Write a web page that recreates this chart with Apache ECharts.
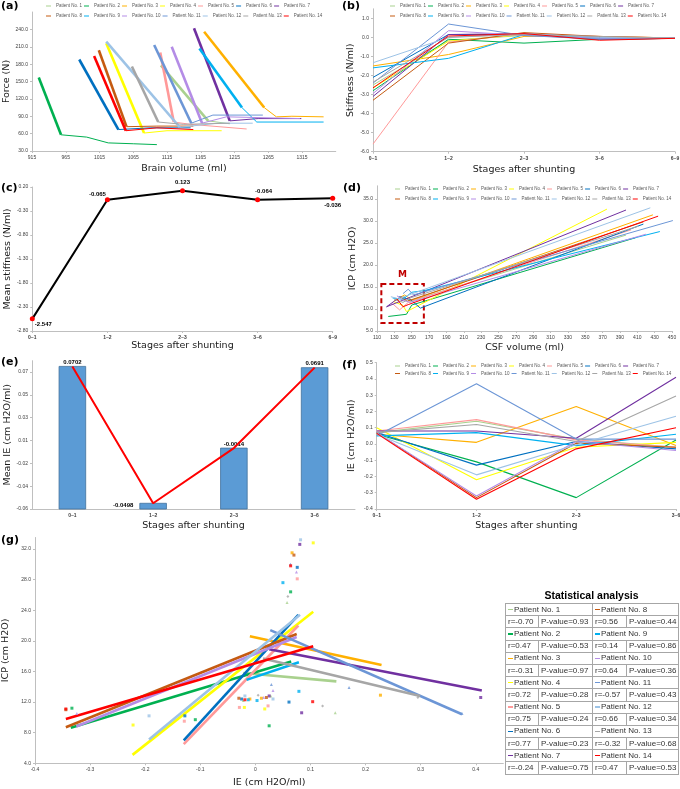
<!DOCTYPE html>
<html>
<head>
<meta charset="utf-8">
<title>Stiffness / ICP after shunting</title>
<script src="https://cdn.jsdelivr.net/npm/echarts/dist/echarts.min.js"></script>
<style>
html, body { margin: 0; padding: 0; background: #fff; }
#wrap { position: relative; width: 680px; height: 789px; }
#chart { position: absolute; left: 0; top: 0; width: 680px; height: 789px; }
#stat { position: absolute; left: 505px; top: 588px; width: 173px; font-family: 'Liberation Sans', Arial, sans-serif; color: #333; }
#stat .ttl { text-align: center; font-weight: bold; font-size: 10.5px; height: 15px; line-height: 15px; color: #000; }
#stat table { border-collapse: collapse; width: 173px; table-layout: fixed; }
#stat tr { height: 12.2px; }
#stat td { border: 1px solid #A6A6A6; font-size: 8px; line-height: 10px; padding: 0 0 0 2px; white-space: nowrap; overflow: hidden; }
#stat .dash { display: inline-block; width: 5px; height: 1.3px; vertical-align: middle; margin-right: 1px; }
</style>
</head>
<body>
<div id="wrap">
  <div id="chart"></div>
  <div id="stat">
    <div class="ttl">Statistical analysis</div>
    <table id="statTable">
      <colgroup><col style="width:33px"><col style="width:54px"><col style="width:34px"><col style="width:52px"></colgroup>
      <tbody></tbody>
    </table>
  </div>
</div>
<script>
// patients + colours (same order in every panel)
const patients = ['Patient No. 1', 'Patient No. 2', 'Patient No. 3', 'Patient No. 4', 'Patient No. 5', 'Patient No. 6', 'Patient No. 7',
  'Patient No. 8', 'Patient No. 9', 'Patient No. 10', 'Patient No. 11', 'Patient No. 12', 'Patient No. 13', 'Patient No. 14']
const colors = ['#A9D18E', '#00B050', '#FFB000', '#FFFF00', '#FF9999', '#0070C0', '#7030A0',
  '#C55A11', '#00B0F0', '#B48CE6', '#6C96D6', '#9DC3E6', '#A6A6A6', '#FF0000']

// (a) force vs brain volume, [volume, force]
const forceData = [
  [[1106, 178], [1176, 82], [1208, 77]],
  [[925, 157], [958, 58], [996, 54], [1028, 44], [1065, 42.5], [1100, 41]],
  [[1170, 236], [1259, 105], [1277, 89], [1300, 90], [1347, 89]],
  [[1025, 216], [1081, 61], [1115, 65], [1196, 65]],
  [[1105, 200], [1125, 80], [1150, 76], [1233, 68]],
  [[985, 188], [1043, 67], [1090, 70], [1150, 70]],
  [[1155, 242], [1208, 82], [1250, 86], [1314, 86]],
  [[1014, 204], [1055, 72], [1100, 73], [1154, 73]],
  [[1163, 207], [1226, 105], [1248, 80], [1347, 80]],
  [[1122, 210], [1167, 78], [1203, 89], [1312, 86]],
  [[1096, 213], [1151, 78], [1183, 92], [1257, 92]],
  [[1025, 219], [1134, 71], [1190, 78], [1242, 78]],
  [[1063, 176], [1102, 80], [1139, 76], [1208, 78]],
  [[1007, 194], [1054, 65], [1100, 70], [1154, 67]]
]

// (b) stiffness per stage
const stages5 = ['0~1', '1~2', '2~3', '3~6', '6~9']
const stiffData = [
  [-2.5, -0.15, 0.1, -0.05, -0.04],
  [-2.8, -0.1, -0.3, -0.1, -0.05],
  [-1.5, -0.9, 0.05, 0.05, -0.03],
  [-2.65, -0.2, 0.15, 0.0, -0.04],
  [-5.6, -0.25, 0.2, 0.05, -0.03],
  [-2.1, 0.15, 0.15, -0.1, -0.05],
  [-3.1, 0.15, 0.2, 0.0, -0.04],
  [-3.3, -0.3, 0.25, 0.05, -0.03],
  [-1.6, -1.1, 0.15, -0.05, -0.05],
  [-2.95, 0.35, 0.1, -0.05, -0.04],
  [-2.4, 0.7, 0.1, -0.1, -0.05],
  [-1.33, 0.0, 0.2, 0.0, -0.03],
  [-2.35, 0.0, 0.15, 0.05, -0.04],
  [-2.65, 0.07, 0.2, -0.15, -0.05]
]

// (c) mean stiffness
const meanStiff = [-2.547, -0.065, 0.123, -0.064, -0.036]

// (d) ICP vs CSF volume, [volume, icp]
const icpData = [
  [[132, 12.0], [140, 12.8], [148, 11.8], [397, 26.8]],
  [[123, 8.3], [144, 8.8], [150, 10.9], [408, 26.2]],
  [[135, 12.5], [142, 13.2], [150, 12.0], [428, 31.4]],
  [[129, 11.7], [140, 10.8], [144, 9.4], [375, 32.7]],
  [[128, 11.2], [136, 9.8], [146, 11.5], [403, 28.0]],
  [[135, 12.8], [148, 12.2], [160, 10.2], [417, 29.3]],
  [[138, 12.8], [130, 11.8], [121, 10.5], [397, 32.5]],
  [[130, 12.0], [138, 12.6], [145, 11.8], [417, 29.8]],
  [[128, 12.5], [140, 12.2], [150, 13.8], [165, 14.2], [436, 27.6]],
  [[133, 13.0], [140, 12.0], [148, 11.5], [420, 27.0]],
  [[140, 13.5], [146, 14.5], [152, 13.2], [451, 30.1]],
  [[126, 12.8], [135, 12.3], [144, 13.0], [425, 33.0]],
  [[130, 12.2], [140, 11.5], [148, 12.5], [411, 28.8]],
  [[133, 12.3], [140, 10.5], [146, 11.0], [434, 31.1]]
]
const mBox = [115, 164, 6.8, 15.7] // x0, x1, y0, y1 of the dashed "M" frame

// (e) mean IE
const stages4 = ['0~1', '1~2', '2~3', '3~6']
const meanIE = [0.0702, -0.0498, -0.0014, 0.0691]
const ieMin = -0.0548
const ieTickLabels = ['-0.06', '-0.04', '-0.02', '0.01', '0.03', '0.05', '0.07']

// (f) IE per stage
const ieData = [
  [0.07, 0.14, 0.03, -0.02],
  [0.06, -0.11, -0.33, 0.025],
  [0.06, 0.01, 0.23, -0.01],
  [0.10, -0.22, -0.02, 0.01],
  [0.08, 0.15, 0.025, -0.02],
  [0.07, -0.13, 0.015, -0.03],
  [0.08, 0.08, 0.035, 0.41],
  [0.07, -0.33, 0.005, -0.02],
  [0.05, 0.07, -0.01, 0.06],
  [0.07, -0.32, 0.015, -0.04],
  [0.05, 0.37, 0.03, 0.03],
  [0.06, -0.19, -0.005, 0.17],
  [0.07, 0.12, 0.015, 0.295],
  [0.065, -0.34, -0.03, 0.10]
]

// (g) ICP vs IE points [ie, icp] and fitted line ends
const gPoints = [
  [[0.0575, 25.0], [0.145, 10.6], [0.028, 12.8], [-0.022, 12.2]],
  [[0.064, 26.4], [-0.109, 9.7], [-0.333, 11.2], [0.025, 8.9]],
  [[0.0666, 31.5], [0.011, 12.5], [0.227, 12.9], [-0.010, 12.4]],
  [[0.105, 32.8], [-0.222, 9.0], [-0.020, 11.3], [0.017, 11.1]],
  [[0.076, 28.1], [-0.129, 9.5], [-0.029, 11.3], [0.023, 11.5]],
  [[0.076, 29.6], [-0.128, 10.2], [-0.025, 12.4], [0.061, 12.0]],
  [[0.0806, 32.6], [0.409, 12.6], [0.084, 10.6], [0.025, 12.8]],
  [[0.070, 31.2], [-0.344, 11.0], [-0.030, 12.5], [0.020, 12.6]],
  [[0.050, 27.6], [-0.013, 12.3], [0.079, 13.4], [0.003, 12.2]],
  [[0.0745, 29.0], [-0.324, 10.5], [0.032, 13.5], [0.015, 12.6]],
  [[0.0636, 30.0], [0.375, 10.5], [0.029, 14.3], [0.170, 13.9]],
  [[0.082, 33.2], [-0.193, 10.2], [-0.019, 12.8], [0.032, 12.4]],
  [[0.059, 25.8], [0.122, 11.5], [0.005, 12.9], [0.295, 12.6]],
  [[0.064, 29.8], [-0.344, 11.1], [0.104, 12.05], [-0.019, 12.3]]
]
const gFits = [
  [[-0.022, 15.8], [0.147, 14.7]],
  [[-0.335, 8.65], [0.065, 17.3]],
  [[-0.010, 20.6], [0.229, 16.85]],
  [[-0.223, 5.1], [0.105, 23.8]],
  [[-0.13, 6.5], [0.078, 22.0]],
  [[-0.13, 7.0], [0.078, 23.4]],
  [[0.025, 18.9], [0.411, 13.5]],
  [[-0.344, 8.7], [0.075, 20.9]],
  [[-0.016, 14.9], [0.079, 17.2]],
  [[-0.325, 8.8], [0.075, 20.5]],
  [[0.027, 21.4], [0.375, 10.4]],
  [[-0.193, 7.1], [0.081, 23.4]],
  [[0.014, 17.7], [0.299, 12.8]],
  [[-0.344, 9.8], [0.105, 19.3]]
]
const gSymbols = ['triangle', 'rect', 'rect', 'rect', 'rect', 'rect', 'rect', 'rect', 'rect', 'triangle', 'triangle', 'rect', 'diamond', 'rect']

// table
const rValues = [-0.70, 0.47, -0.31, 0.72, 0.75, 0.77, -0.24, 0.56, 0.14, 0.64, -0.57, 0.66, -0.32, 0.47]
const pValues = [0.93, 0.53, 0.97, 0.28, 0.24, 0.23, 0.75, 0.44, 0.86, 0.36, 0.43, 0.34, 0.68, 0.53]

const titleFont = 'DejaVu Sans'
const smallFont = 'Liberation Sans'

function axis (gridIndex, extra) {
  const base = {
    gridIndex: gridIndex,
    nameLocation: 'middle',
    nameTextStyle: { fontSize: 9.5, fontFamily: titleFont, color: '#1a1a1a' },
    axisLine: { show: true, onZero: false, lineStyle: { color: '#BFBFBF', width: 1 } },
    axisTick: { show: true, length: 2, lineStyle: { color: '#BFBFBF' } },
    axisLabel: { fontSize: 5, color: '#404040', fontFamily: smallFont, margin: 4 },
    splitLine: { show: false }
  }
  return Object.assign(base, extra, {
    axisLabel: Object.assign({}, base.axisLabel, extra.axisLabel || {})
  })
}

function legendPair (left, top1, top2) {
  return [patients.slice(0, 7), patients.slice(7)].map(function (names, k) {
    return {
      data: names,
      left: left,
      top: k ? top2 : top1,
      orient: 'horizontal',
      icon: 'rect',
      itemWidth: 5,
      itemHeight: 1,
      itemGap: 2,
      padding: 0,
      selectedMode: false,
      textStyle: { fontSize: 4.5, width: 30, color: '#595959', fontFamily: smallFont }
    }
  })
}

const fix = function (d) {
  return function (v) { return Math.abs(v) < 1e-9 ? (0).toFixed(d) : v.toFixed(d) }
}

const series = []

// (a)
forceData.forEach(function (pts, i) {
  series.push({
    name: patients[i], type: 'line', xAxisIndex: 0, yAxisIndex: 0, data: pts.slice(0, 2),
    showSymbol: false, symbol: 'none', lineStyle: { width: 2.6, color: colors[i] }, itemStyle: { color: colors[i] }
  })
  series.push({
    name: patients[i], type: 'line', xAxisIndex: 0, yAxisIndex: 0, data: pts.slice(1),
    showSymbol: false, symbol: 'none', lineStyle: { width: 1, color: colors[i] }, itemStyle: { color: colors[i] }
  })
})

// (b)
stiffData.forEach(function (vals, i) {
  series.push({
    name: patients[i], type: 'line', xAxisIndex: 1, yAxisIndex: 1, data: vals,
    showSymbol: false, symbol: 'none', lineStyle: { width: 1, color: colors[i] }, itemStyle: { color: colors[i] }
  })
})

// (c)
const cLabelPos = [
  { position: 'right', offset: [-3, 5] },
  { position: 'left', offset: [4, -5] },
  { position: 'top', offset: [0, 0] },
  { position: 'top', offset: [6, 0] },
  { position: 'bottom', offset: [0, -1] }
]
series.push({
  type: 'line', xAxisIndex: 2, yAxisIndex: 2,
  data: meanStiff.map(function (v, i) { return { value: v, label: cLabelPos[i] } }),
  symbol: 'circle', symbolSize: 5,
  lineStyle: { color: '#000', width: 2 },
  itemStyle: { color: '#FF0000' },
  label: { show: true, fontSize: 6, fontWeight: 'bold', fontFamily: smallFont, color: '#000', distance: 3 }
})

// (d)
icpData.forEach(function (pts, i) {
  const s = {
    name: patients[i], type: 'line', xAxisIndex: 3, yAxisIndex: 3, data: pts,
    showSymbol: false, symbol: 'none', lineStyle: { width: 1, color: colors[i] }, itemStyle: { color: colors[i] }
  }
  if (i === patients.length - 1) {
    s.markArea = {
      silent: true,
      itemStyle: { color: 'rgba(0,0,0,0)', borderColor: '#C00000', borderWidth: 2, borderType: [5, 3] },
      label: { show: true, position: 'top', formatter: 'M', color: '#C00000', fontWeight: 'bold', fontSize: 9, fontFamily: titleFont, distance: 4 },
      data: [[{ xAxis: mBox[0], yAxis: mBox[3] }, { xAxis: mBox[1], yAxis: mBox[2] }]]
    }
  }
  series.push(s)
})

// (e) bars start from the axis bottom, like the original
series.push({
  type: 'custom', xAxisIndex: 4, yAxisIndex: 4,
  data: meanIE.map(function (v, i) { return [i, v] }),
  renderItem: function (params, api) {
    const c = api.value(0)
    const v = api.value(1)
    const top = api.coord([c, v])
    const base = api.coord([c, ieMin])
    const w = api.size([1, 0])[0] * 0.33
    const side = params.dataIndex === 1
    return {
      type: 'group',
      children: [
        { type: 'rect', shape: { x: top[0] - w / 2, y: top[1], width: w, height: base[1] - top[1] },
          style: { fill: '#5B9BD5', stroke: '#41719C', lineWidth: 0.8 } },
        { type: 'text', x: side ? top[0] - 30 : top[0], y: side ? top[1] + 2 : top[1] - 1,
          style: { text: String(v), align: 'center', verticalAlign: side ? 'middle' : 'bottom',
            fontSize: 6, fontWeight: 'bold', fontFamily: smallFont, fill: '#000' } }
      ]
    }
  }
})
series.push({
  type: 'line', xAxisIndex: 4, yAxisIndex: 4, data: meanIE,
  showSymbol: false, symbol: 'none', lineStyle: { color: '#FF0000', width: 2 }, z: 5
})

// (f)
ieData.forEach(function (vals, i) {
  series.push({
    name: patients[i], type: 'line', xAxisIndex: 5, yAxisIndex: 5, data: vals,
    showSymbol: false, symbol: 'none', lineStyle: { width: 1.1, color: colors[i] }, itemStyle: { color: colors[i] }
  })
})

// (g)
gFits.forEach(function (pts, i) {
  series.push({
    type: 'line', xAxisIndex: 6, yAxisIndex: 6, data: pts,
    showSymbol: false, symbol: 'none', lineStyle: { width: 2.6, color: colors[i] }
  })
})
gPoints.forEach(function (pts, i) {
  series.push({
    type: 'scatter', xAxisIndex: 6, yAxisIndex: 6, data: pts,
    symbol: gSymbols[i], symbolSize: 3, itemStyle: { color: colors[i] }, z: 4
  })
})

const grids = [
  { left: 32, top: 12, right: 344.25, bottom: 638 },
  { left: 373, top: 8.8, right: 5, bottom: 637.3 },
  { left: 32.3, top: 187, right: 347.3, bottom: 458 },
  { left: 377, top: 185.8, right: 8, bottom: 458 },
  { left: 32, top: 360.7, right: 325, bottom: 280 },
  { left: 376.7, top: 362.7, right: 4, bottom: 280 },
  { left: 35, top: 537.5, right: 176.7, bottom: 25.7 }
].map(function (g) { return Object.assign({ outerBoundsMode: 'none', containLabel: false }, g) })

const xAxes = [
  axis(0, { type: 'value', min: 915, max: 1365, interval: 50, name: 'Brain volume (ml)', nameGap: 13,
    axisLabel: { showMaxLabel: false, formatter: function (v) { return String(v) } } }),
  axis(1, { type: 'category', data: stages5, boundaryGap: false, name: 'Stages after shunting', nameGap: 13,
    axisLabel: { interval: 0, fontWeight: 'bold' } }),
  axis(2, { type: 'category', data: stages5, boundaryGap: false, name: 'Stages after shunting', nameGap: 10,
    axisLabel: { interval: 0, fontWeight: 'bold' } }),
  axis(3, { type: 'value', min: 110, max: 450, interval: 20, name: 'CSF volume (ml)', nameGap: 12 }),
  axis(4, { type: 'category', data: stages4, boundaryGap: true, name: 'Stages after shunting', nameGap: 12,
    axisTick: { show: false }, axisLabel: { interval: 0, fontWeight: 'bold' } }),
  axis(5, { type: 'category', data: stages4, boundaryGap: false, name: 'Stages after shunting', nameGap: 12,
    axisLabel: { interval: 0, fontWeight: 'bold' } }),
  axis(6, { type: 'value', min: -0.4, max: 0.45, interval: 0.1, name: 'IE (cm H2O/ml)', nameGap: 14,
    axisLabel: { showMaxLabel: false, formatter: function (v) { return Math.abs(v) < 1e-9 ? '0' : v.toFixed(1) } } })
]
const yAxes = [
  axis(0, { type: 'value', min: 30, max: 270, interval: 30, name: 'Force (N)', nameGap: 19,
    axisLabel: { showMaxLabel: false, formatter: fix(1) } }),
  axis(1, { type: 'value', min: -6, max: 1.5, interval: 1, name: 'Stiffness (N/ml)', nameGap: 17,
    axisLabel: { showMaxLabel: false, formatter: fix(1) } }),
  axis(2, { type: 'value', min: -2.8, max: 0.2, interval: 0.5, name: 'Mean stiffness (N/ml)', nameGap: 18,
    axisLabel: { formatter: fix(2) } }),
  axis(3, { type: 'value', min: 5, max: 38, interval: 5, name: 'ICP (cm H2O)', nameGap: 19,
    axisLabel: { showMaxLabel: false, formatter: fix(1) } }),
  axis(4, { type: 'value', min: ieMin, max: 0.0752, interval: 0.02, name: 'Mean IE (cm H2O/ml)', nameGap: 18,
    axisLabel: { showMaxLabel: false, formatter: function (v, i) { return ieTickLabels[i] || '' } } }),
  axis(5, { type: 'value', min: -0.4, max: 0.5, interval: 0.1, name: 'IE (cm H2O/ml)', nameGap: 20,
    axisLabel: { formatter: fix(1) } }),
  axis(6, { type: 'value', min: 4, max: 33.5, interval: 4, name: 'ICP (cm H2O)', nameGap: 22,
    axisLabel: { showMaxLabel: false, formatter: fix(1) } })
]

const panelTags = [['(a)', 1, 1], ['(b)', 342, 1], ['(c)', 1, 183], ['(d)', 343, 183], ['(e)', 1, 357], ['(f)', 342, 360], ['(g)', 1, 535]]

const myChart = echarts.init(document.getElementById('chart'))
myChart.setOption({
  animation: false,
  backgroundColor: '#fff',
  grid: grids,
  xAxis: xAxes,
  yAxis: yAxes,
  legend: [].concat(legendPair(46, 3.5, 13.5), legendPair(390, 3.5, 13.5), legendPair(395, 186.5, 196.5), legendPair(395, 363.5, 371)),
  graphic: panelTags.map(function (t) {
    return { type: 'text', left: t[1], top: t[2],
      style: { text: t[0], fontSize: 11, fontWeight: 'bold', fontFamily: titleFont, fill: '#000' } }
  }),
  series: series
})

// stats table
const tbody = document.querySelector('#statTable tbody')
let html = ''
for (let k = 0; k < 7; k++) {
  const a = k
  const b = k + 7
  const dash = function (i) { return '<span class="dash" style="background:' + colors[i] + '"></span>' }
  const r = function (v) { return 'r=' + v.toFixed(2) }
  const p = function (v) { return 'P-value=' + v.toFixed(2) }
  html += '<tr><td colspan="2">' + dash(a) + patients[a] + '</td><td colspan="2">' + dash(b) + patients[b] + '</td></tr>'
  html += '<tr><td>' + r(rValues[a]) + '</td><td>' + p(pValues[a]) + '</td><td>' + r(rValues[b]) + '</td><td>' + p(pValues[b]) + '</td></tr>'
}
tbody.innerHTML = html
</script>
</body>
</html>
